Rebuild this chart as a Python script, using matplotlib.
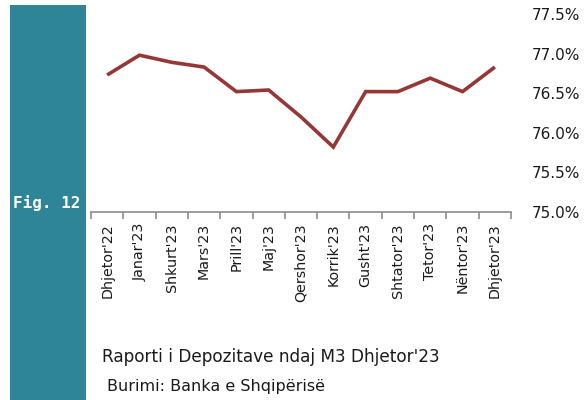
import matplotlib
matplotlib.use("Agg")
import matplotlib.pyplot as plt
from matplotlib.patches import Rectangle
from matplotlib.ticker import FuncFormatter, FixedLocator

months = ["Dhjetor'22", "Janar'23", "Shkurt'23", "Mars'23", "Prill'23", "Maj'23",
          "Qershor'23", "Korrik'23", "Gusht'23", "Shtator'23", "Tetor'23", "Nëntor'23",
          "Dhjetor'23"]
ratio = [76.73, 76.98, 76.89, 76.83, 76.52, 76.54, 76.20, 75.82, 76.52, 76.52,
         76.69, 76.52, 76.83]
yticks = [75.0, 75.5, 76.0, 76.5, 77.0, 77.5]

plt.rcParams['font.family'] = ['DejaVu Sans']

fig = plt.figure(figsize=(5.84, 4.0), dpi=100)
fig.patch.set_facecolor('white')

# teal side panel
fig.patches.append(Rectangle((10/584, 0), 76/584, 395/400, transform=fig.transFigure,
                             facecolor='#2E8597', edgecolor='none', zorder=0))
fig.text(47/584, 1-203/400, "Fig. 12", color='white', fontsize=11.5, fontweight='bold',
         family=['DejaVu Sans Mono'], ha='center', va='center')

ax = fig.add_axes([91/584, 1-212/400, 420/584, 198/400])
x = list(range(len(months)))
ax.plot(x, ratio, color='#953735', lw=2.6, solid_capstyle='butt', solid_joinstyle='miter')
ax.set_xlim(-0.5, len(months)-0.5)
ax.set_ylim(75.0, 77.5)

for s in ['top', 'left', 'right']:
    ax.spines[s].set_visible(False)
ax.spines['bottom'].set_color('#8C8C8C')
ax.spines['bottom'].set_linewidth(1.2)

ax.set_xticks(x)
ax.set_xticklabels(months, rotation=90, fontsize=10.3, color='#1a1a1a')
ax.tick_params(axis='x', which='major', length=0, pad=8)
ax.xaxis.set_minor_locator(FixedLocator([i - 0.5 for i in range(len(months)+1)]))
ax.tick_params(axis='x', which='minor', length=5, color='#8C8C8C', width=1.2)

ax.yaxis.tick_right()
ax.set_yticks(yticks)
ax.yaxis.set_major_formatter(FuncFormatter(lambda v, p: f"{v:.1f}%"))
ax.tick_params(axis='y', length=0, pad=15, labelsize=11, labelcolor='#1a1a1a')

fig.text(102/584, 1-357/400, "Raporti i Depozitave ndaj M3 Dhjetor'23", fontsize=12.2,
         color='#1a1a1a', ha='left', va='center')
fig.text(107/584, 1-386/400, "Burimi: Banka e Shqipërisë", fontsize=11.5,
         color='#1a1a1a', ha='left', va='center')

fig.savefig('out.png', dpi=100)
